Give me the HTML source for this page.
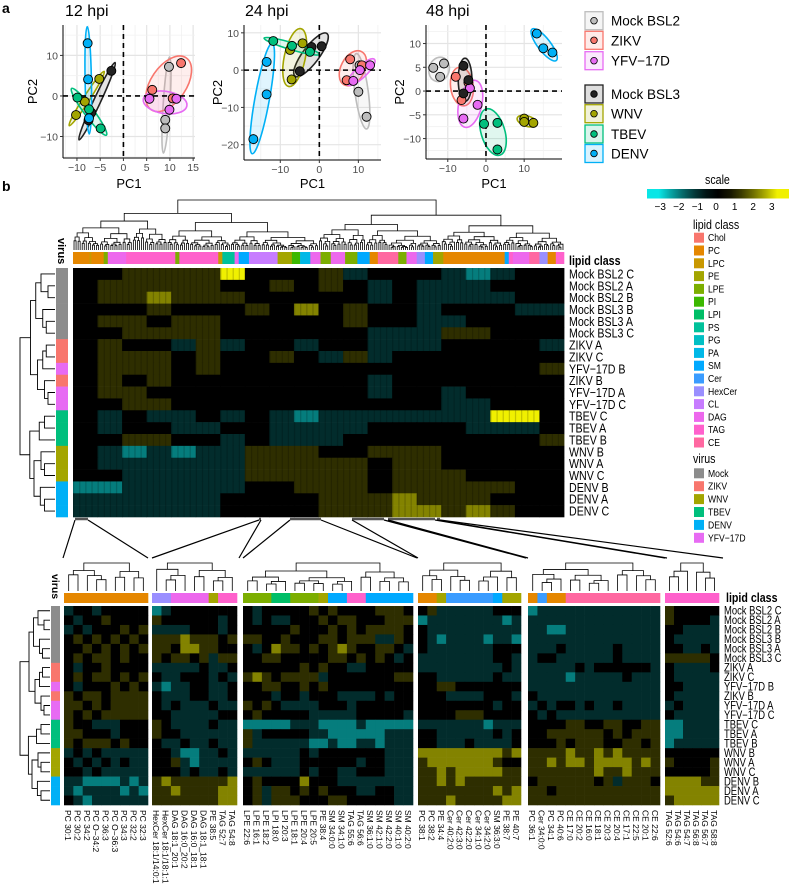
<!DOCTYPE html>
<html><head><meta charset="utf-8"><style>
body{margin:0;background:#fff}
svg{display:block;font-family:"Liberation Sans",sans-serif}
</style></head><body>
<svg id="fig" width="799" height="889" viewBox="0 0 799 889" xmlns="http://www.w3.org/2000/svg">
<text x="2" y="13" font-size="14" font-weight="bold">a</text>
<text x="2" y="191" font-size="14" font-weight="bold">b</text>
<g id="pca"></g>
<g id="legA"></g>
<g id="topHeat"></g>
<g id="botHeat"></g>
<g id="legB"></g>
</svg>
<script>
// ---------- DATA ----------
const groups = ["Mock BSL2","ZIKV","YFV-17D","Mock BSL3","WNV","TBEV","DENV"];
const groupColors = ["#bdbdbd","#f8766d","#e76bf3","#222222","#a3a500","#00bf7d","#00b0f6"];
const pc12 = [[[9.8,7.2],[9.0,-5.9],[9.0,-8.0]],[[12.4,8.1],[6.2,1.5],[10.6,-0.6]],[[5.6,-0.7],[11.4,-0.7],[9.9,-3.4]],[[-2.6,6.2],[-6.9,-4.1],[-7.5,-6.0]],[[-5.2,4.2],[-10.2,-4.7],[-8.3,-1.4]],[[-9.9,-0.4],[-7.4,-3.3],[-4.9,-8.0]],[[-7.7,13.0],[-7.6,4.1],[-7.4,-5.5]]];
const pc24 = [[[10.3,1.3],[10.0,-5.8],[12.1,-12.5]],[[7.9,2.9],[7.0,-2.7],[10.9,1.3]],[[13.0,1.3],[8.7,-2.9],[10.4,0.0]],[[-2.0,6.2],[0.6,6.4],[-5.0,-0.3]],[[-7.5,5.4],[-4.3,7.2],[-7.1,-2.5]],[[-11.8,7.8],[-7.0,6.5],[-2.4,4.9]],[[-13.5,2.2],[-13.5,-6.5],[-16.9,-18.5]]];
const pc48 = [[[-13.8,4.9],[-11.0,5.8],[-12.0,3.0]],[[-7.9,3.0],[-6.4,-1.9],[-4.6,1.8]],[[-5.9,-5.8],[-2.2,-2.9],[-4.2,0.6]],[[-5.9,5.3],[-4.6,2.3],[-5.9,-0.5]],[[10.0,-5.8],[12.4,-6.7],[10.0,-6.5]],[[-0.5,-6.9],[3.0,-6.7],[3.0,-12.3]],[[13.3,12.1],[15.0,9.0],[17.4,8.1]]];
const xTicks12=[-10,-5,0,5,10,15], yTicks12=[-10,0,10];
const xTicks24=[-10,0,10], yTicks24=[-20,-10,0,10];
const xTicks48=[-10,0,10], yTicks48=[-10,-5,0,5,10];

const rowLabels = ["Mock BSL2 C","Mock BSL2 A","Mock BSL2 B","Mock BSL3 B","Mock BSL3 A","Mock BSL3 C","ZIKV A","ZIKV C","YFV−17D B","ZIKV B","YFV−17D A","YFV−17D C","TBEV C","TBEV A","TBEV B","WNV B","WNV A","WNV C","DENV B","DENV A","DENV C"];
const rowVirus = ["Mock","Mock","Mock","Mock","Mock","Mock","ZIKV","ZIKV","YFV-17D","ZIKV","YFV-17D","YFV-17D","TBEV","TBEV","TBEV","WNV","WNV","WNV","DENV","DENV","DENV"];
const virusNames = ["Mock","ZIKV","WNV","TBEV","DENV","YFV-17D"];
const virusCols = ["#8c8c8c","#f8766d","#a3a500","#00bf7d","#00b0f6","#e76bf3"];
const lipidClasses = ["Chol","PC","LPC","PE","LPE","PI","LPI","PS","PG","PA","SM","Cer","HexCer","CL","DAG","TAG","CE"];
const lipidCols = ["#f8766d","#e58700","#c99800","#a3a500","#7cae00","#3cb800","#00be67","#00c19a","#00bfc4","#00b8e7","#00a9ff","#3a9cff","#9a8fff","#c77cff","#ed68ed","#ff61cc","#ff68a1"];
const mainBlocks = ["33444463334233321233","34444433434323222333","34454443333323222233","33343334353433233322","34434433333433223333","33444433333322244333","34332423323322233332","34443433432423333333","34443433333333333334","34343333333323333333","34433333333323323333","33443333333333322333","32322323212222222663","32332233222233332223","33443323222333333334","32121224443344433333","32222224444434433333","33222224444434443333","11222223344434444433","22222233334445444333","22222233334445545433"];
const mainLipidRuns = [["PC",8],["LPC",1],["PC",6],["LPE",2],["DAG",9],["TAG",24],["LPE",2],["TAG",19],["LPC",2],["PS",6],["DAG",2],["SM",5],["CL",14],["PE",7],["PI",4],["PA",5],["DAG",5],["LPE",5],["DAG",7],["LPE",6],["SM",6],["PC",4],["CE",10],["LPE",4],["DAG",5],["HexCer",4],["SM",4],["PE",5],["PC",30],["SM",2],["TAG",2],["DAG",8],["CE",5],["HexCer",4],["PC",4],["TAG",4]];
const p1Labels=["PC 30:1","PC 30:2","PC 34:2","PC O−34:2","PC 36:3","PC O−36:3","PC 34:3","PC 32:2","PC 32:3"];
const p2Labels=["HexCer 18:1/14:0:1","HexCer 18:1/18:1:1","DAG 18:1_20:1","DAG 16:0_20:2","DAG 16:0_18:1","DAG 18:1_18:1","PE 38:5","TAG 52:7","TAG 54:8"];
const p3Labels=["LPE 22:6","LPE 16:1","LPE 18:2","LPI 18:0","LPI 20:3","LPE 18:1","LPE 20:4","LPE 20:5","PE 38:4","SM 34:0:0","SM 34:1:0","TAG 55:6","TAG 56:6","SM 36:1:0","SM 42:1:0","SM 42:2:0","SM 40:1:0","SM 40:2:0"];
const p4Labels=["PC 38:1","PC 38:2","PE 34:4","Cer 40:2:0","Cer 42:3:0","Cer 42:2:0","Cer 34:1:0","Cer 34:2:0","SM 36:3:0","PE 38:7","PE 40:7"];
const p5Labels=["PC 36:1","Cer 34:0:0","PC 34:1","PC 40:6","CE 17:0","CE 20:2","CE 16:0","CE 18:1","CE 20:3","CE 20:4","CE 17:1","CE 22:5","CE 20:1","CE 22:6"];
const p6Labels=["TAG 52:6","TAG 54:6","TAG 54:7","TAG 56:8","TAG 56:7","TAG 58:8"];
const p1Lip=[["PC",9]], p2Lip=[["HexCer",2],["DAG",4],["PE",1],["TAG",2]], p3Lip=[["LPE",3],["LPI",2],["LPE",3],["PE",1],["SM",2],["TAG",2],["SM",5]], p4Lip=[["PC",2],["PE",1],["Cer",5],["SM",1],["PE",2]], p5Lip=[["PC",1],["Cer",1],["PC",2],["CE",10]], p6Lip=[["TAG",6]];
const p1Z=["233233333","323343333","232333434","343434343","334343434","343443433","323343333","343443434","323334343","434434444","443434444","434344444","433222333","443332333","434443433","232322222","323232322","332322222","221111212","212222121","321222222"];
const p2Z=["123333333","433333323","222233323","444544434","443554433","434434244","222223223","322333232","212233223","322233223","323222322","332222233","432222322","433222222","322322322","332112232","334212222","333232232","454444445","445444455","444444455"];
const p3Z=["323333343433334443","323223334344333444","333334333434344443","443343334434442243","323544343454334432","334433333443434323","333333434332233333","454344442333333344","334433434333333333","333233233322223233","434322223332333333","343333322222333332","111112221111211111","423333322111111222","422222211211221222","222222323333333222","343222333333233222","222222323322333222","343333533322222222","342443434333223322","342444333443333322"];
const p4Z=["34222222333","12222222212","32222222222","32122221221","32222222333","22222222332","22222222232","33222222322","33443333333","33322223332","33333333233","33334443333","22222221222","33222222323","33222322223","55555555545","45555555433","44545555544","44545444444","44444444545","44454444455"];
const p5Z=["12222222222222","22222222222222","22112222222222","22222222222222","22232222232222","23322222232222","22222323333332","22221222223222","22222222222222","32222222222222","23233232232222","32322222222222","33334433443344","33444444343444","33343444334434","44445445454444","44545545555454","44444445445444","34444443424443","44344444444444","44444444444444"];
const p6Z=["433333","433332","332222","322222","332232","444443","322223","322222","332222","322222","232222","322222","112222","112222","122222","333333","433334","333334","555544","555555","455555"];
const scaleTicks=[-3,-2,-1,0,1,2,3];

// ---------- helpers ----------
const NS="http://www.w3.org/2000/svg";
function mk(parent,tag,attrs,txt){const e=document.createElementNS(NS,tag);for(const k in attrs)e.setAttribute(k,attrs[k]);if(txt!==undefined)e.textContent=txt;parent.appendChild(e);return e;}
// narrow text: horizontally condensed
function ntext(parent,x,y,size,str,rot,extra){const a=Object.assign({x:0,y:0,'font-size':size,transform:`translate(${x} ${y}) rotate(${rot||0}) scale(0.82 1)`},extra||{});return mk(parent,'text',a,str);}
function zcol(v){v=Math.max(-3,Math.min(3,v));let t=Math.abs(v)/3;t=Math.pow(t,1.5);const c=v<0?[10,230,230]:[240,240,0];return `rgb(${Math.round(c[0]*t)},${Math.round(c[1]*t)},${Math.round(c[2]*t)})`;}
function lipCol(n){return lipidCols[lipidClasses.indexOf(n)]}
function vCol(n){return virusCols[virusNames.indexOf(n)]}

// ---------- PCA panels ----------
const pcaG=document.getElementById('pca');
const panels=[
 {t:"12 hpi",d:pc12,xt:xTicks12,yt:yTicks12,x0:63,x1:195,y0:25,y1:158,xd:[-13.0,15.4],yd:[-15.3,17.5],tx:65},
 {t:"24 hpi",d:pc24,xt:xTicks24,yt:yTicks24,x0:244,x1:381,y0:25,y1:160,xd:[-19.3,15.8],yd:[-24.1,12.1],tx:245},
 {t:"48 hpi",d:pc48,xt:xTicks48,yt:yTicks48,x0:426,x1:562,y0:25,y1:159,xd:[-15.7,19.9],yd:[-14.3,13.9],tx:426}];
panels.forEach((P,pi)=>{
 const g=mk(pcaG,'g',{});
 
 
 const sx=u=>P.x0+(u-P.xd[0])/(P.xd[1]-P.xd[0])*(P.x1-P.x0);
 const sy=v=>P.y1-(v-P.yd[0])/(P.yd[1]-P.yd[0])*(P.y1-P.y0);
 const t=mk(g,'text',{x:P.tx,y:16,'font-size':16},P.t);
 
 
 const xs=P.xt, ys=P.yt;
 const xstep=xs[1]-xs[0], ystep=ys[1]-ys[0];
 for(let i=-4;i<=40;i++){const u=xs[0]+(i*xstep)/2;const X=sx(u);const maj=i%2===0;if(X>P.x0&&X<P.x1)mk(g,'line',{x1:X,x2:X,y1:P.y0,y2:P.y1,stroke:maj?'#e4e4e4':'#f1f1f1','stroke-width':maj?1.2:0.8});}
 for(let i=-4;i<=40;i++){const v=ys[0]+(i*ystep)/2;const Y=sy(v);const maj=i%2===0;if(Y>P.y0&&Y<P.y1)mk(g,'line',{x1:P.x0,x2:P.x1,y1:Y,y2:Y,stroke:maj?'#e4e4e4':'#f1f1f1','stroke-width':maj?1.2:0.8});}
 mk(g,'line',{x1:P.x0,x2:P.x0,y1:P.y0,y2:P.y1,stroke:'#000','stroke-width':1});
 mk(g,'line',{x1:P.x0,x2:P.x1,y1:P.y1,y2:P.y1,stroke:'#000','stroke-width':1});
 P.xt.forEach(u=>{const X=sx(u);mk(g,'line',{x1:X,x2:X,y1:P.y1,y2:P.y1+3,stroke:'#333'});const l=mk(g,'text',{x:X,y:P.y1+13,'font-size':10.5,'text-anchor':'middle',fill:'#4d4d4d'},String(u).replace('-','−'));});
 P.yt.forEach(v=>{const Y=sy(v);mk(g,'line',{x1:P.x0-3,x2:P.x0,y1:Y,y2:Y,stroke:'#333'});const l=mk(g,'text',{x:P.x0-5,y:Y+4,'font-size':10.5,'text-anchor':'end',fill:'#4d4d4d'},String(v).replace('-','−'));});
 const xl=mk(g,'text',{x:(P.x0+P.x1)/2,y:188,'font-size':13,'text-anchor':'middle'},'PC1');
 
 const yx=P.x0-(pi==0?26:22), ymid=(P.y0+P.y1)/2;
 const yl=mk(g,'text',{x:yx,y:ymid,'font-size':13,'text-anchor':'middle',transform:`rotate(-90 ${yx} ${ymid})`},'PC2');
 
 P.d.forEach((pts,gi)=>{
  const n=pts.length;const mx=pts.reduce((a,p)=>a+p[0],0)/n,my=pts.reduce((a,p)=>a+p[1],0)/n;
  let a=0,b=0,c=0;pts.forEach(p=>{a+=(p[0]-mx)**2;b+=(p[0]-mx)*(p[1]-my);c+=(p[1]-my)**2});a/=n-1;b/=n-1;c/=n-1;
  const kx=(P.x1-P.x0)/(P.xd[1]-P.xd[0]), ky=(P.y1-P.y0)/(P.yd[1]-P.yd[0]);
  const A=a*kx*kx,B=-b*kx*ky,C=c*ky*ky;
  const tr=(A+C)/2,det=Math.sqrt(((A-C)/2)**2+B*B);
  const l1=tr+det,l2=Math.max(tr-det,0);
  let ang;
  if(Math.abs(B)<1e-9) ang=(A>=C?0:90); else ang=Math.atan2(l1-A,B)*180/Math.PI;
  const k=1.35;
  const cx=sx(mx),cy=sy(my);
  const e=mk(g,'ellipse',{cx:cx,cy:cy,rx:k*Math.sqrt(l1)+3,ry:k*Math.sqrt(l2)+3,transform:`rotate(${ang} ${cx} ${cy})`,fill:groupColors[gi],'fill-opacity':0.12,stroke:groupColors[gi],'stroke-width':1.6});
  
  
 });
 mk(g,'line',{x1:sx(0),x2:sx(0),y1:P.y0,y2:P.y1,stroke:'#000','stroke-width':1.6,'stroke-dasharray':'5,4'});
 mk(g,'line',{x1:P.x0,x2:P.x1,y1:sy(0),y2:sy(0),stroke:'#000','stroke-width':1.6,'stroke-dasharray':'5,4'});
 P.d.forEach((pts,gi)=>pts.forEach(p=>{
  const c=mk(g,'circle',{cx:sx(p[0]),cy:sy(p[1]),r:4.5,fill:groupColors[gi],stroke:'#000','stroke-width':0.9});
  
  
 }));
});
const legAG=document.getElementById('legA');
const legY=[20.7,40.3,60.7,94,113.7,134,153.5];
groups.forEach((gname,i)=>{
 const g=mk(legAG,'g',{});
 
 
 mk(g,'rect',{x:585,y:legY[i]-9,width:18,height:18,fill:groupColors[i],'fill-opacity':0.15,stroke:groupColors[i],'stroke-width':1.3});
 mk(g,'circle',{cx:594,cy:legY[i],r:3.3,fill:groupColors[i],stroke:'#000','stroke-width':0.8});
 mk(g,'text',{x:611,y:legY[i]+5,'font-size':13.5},gname.replace('-','−'));
});

// ---------- dendrogram helpers ----------
const fracs=[0.5,0.38,0.62,0.45,0.3,0.55,0.68,0.42,0.35,0.58];
let fi=0;
function colTree(lo,hi,h){ if(hi-lo<=1) return {leaf:lo,h:0}; let f=fracs[fi++%fracs.length]; let s=lo+Math.max(1,Math.min(hi-lo-1,Math.round((hi-lo)*f))); const r=0.62+0.25*fracs[(fi*3)%fracs.length]; return {l:colTree(lo,s,h*r),r:colTree(s,hi,h*(r*0.95)),h:h}; }
function drawColTree(g,node,xOf,yOf){ if(node.leaf!==undefined) return {x:xOf(node.leaf),y:yOf(0)}; const a=drawColTree(g,node.l,xOf,yOf),b=drawColTree(g,node.r,xOf,yOf); const y=yOf(node.h); mk(g,'path',{d:`M${a.x},${a.y}V${y}H${b.x}V${b.y}`,fill:'none',stroke:'#000','stroke-width':0.8}); return {x:(a.x+b.x)/2,y:y}; }
const rowTree=[1,[0.7,[0.55,[0.4,0,[0.2,1,2]],[0.35,3,[0.25,4,5]]],[0.5,[0.35,[0.25,6,7],8],[0.3,9,[0.2,10,11]]]],[0.72,[0.45,[0.3,12,13],14],[0.6,[0.4,15,[0.3,16,17]],[0.42,18,[0.3,19,20]]]]];
function drawRowTree(g,node,yOf,xOf){ if(typeof node==='number') return {x:xOf(0),y:yOf(node)}; const a=drawRowTree(g,node[1],yOf,xOf),b=drawRowTree(g,node[2],yOf,xOf); const x=xOf(node[0]); mk(g,'path',{d:`M${a.x},${a.y}H${x}V${b.y}H${b.x}`,fill:'none',stroke:'#000','stroke-width':0.9}); return {x:x,y:(a.y+b.y)/2}; }

// ---------- main heatmap ----------
const topG=document.getElementById('topHeat');
const HX0=73,HX1=564,HY0=268,HY1=517,NC=240;
const cw=(HX1-HX0)/NC, rh=(HY1-HY0)/rowLabels.length;
rowLabels.forEach((lab,r)=>{
 const str=mainBlocks[r]; const bw=(HX1-HX0)/str.length;
 for(let b=0;b<str.length;b++){
  const cell=mk(topG,'rect',{x:HX0+b*bw,y:HY0+r*rh,width:bw+0.4,height:rh+0.3,fill:zcol(+str[b]-3)});
  
  
 }
 const t=ntext(topG,569,HY0+(r+0.5)*rh+4.5,13,lab);
 
 
 const vb=mk(topG,'rect',{x:56,y:HY0+r*rh,width:12,height:rh+0.3,fill:vCol(rowVirus[r])});
 
 
});
for(let c=0;c<NC;c+=3){mk(topG,'rect',{x:HX0+c*cw,y:HY0,width:cw*0.6,height:HY1-HY0,fill:'#000','fill-opacity':0.18});}
let cc=0;
mainLipidRuns.forEach(([n,k])=>{const r=mk(topG,'rect',{x:HX0+cc*cw,y:252,width:k*cw+0.3,height:12,fill:lipCol(n)});cc+=k;});
ntext(topG,569,265,13,'lipid class',0,{'font-weight':'bold'});
mk(topG,'text',{x:58,y:238,'font-size':11,'font-weight':'bold',transform:'rotate(90 58 238)'},'virus');
fi=0;
const ct=colTree(0,NC,1);
drawColTree(topG,ct,i=>HX0+(i+0.5)*cw,h=>250-h*50);
drawRowTree(topG,rowTree,i=>HY0+(i+0.5)*rh,h=>55-h*35);
const conns=[[75,88,63,148],[259,261,152,239],[290,321,243,417],[352,384,418,526],[388,435,528,665],[437,440,667,723]];
conns.forEach(c=>{
 mk(topG,'line',{x1:c[0],x2:c[1],y1:519,y2:519,stroke:'#555','stroke-width':2.5});
 const l1=mk(topG,'line',{x1:c[0],y1:520,x2:c[2],y2:558,stroke:'#000','stroke-width':1.2});
 
 mk(topG,'line',{x1:c[1],y1:520,x2:c[3],y2:558,stroke:'#000','stroke-width':1.2});
});

// ---------- bottom panels ----------
const botG=document.getElementById('botHeat');
const BY0=606,BY1=805; const brh=(BY1-BY0)/rowLabels.length;
const subs=[[64,148,p1Labels,p1Lip,p1Z],[152,237,p2Labels,p2Lip,p2Z],[243,413,p3Labels,p3Lip,p3Z],[418,521,p4Labels,p4Lip,p4Z],[528,660,p5Labels,p5Lip,p5Z],[665,719,p6Labels,p6Lip,p6Z]];
subs.forEach((S,si)=>{
 const [x0,x1,labs,lip,Z]=S; const n=labs.length; const w=(x1-x0)/n;
 const g=mk(botG,'g',{});
 
 
 Z.forEach((row,r)=>{for(let c=0;c<n;c++){const cell=mk(g,'rect',{x:x0+c*w,y:BY0+r*brh,width:w+0.3,height:brh+0.3,fill:zcol(+row[c]-3)});}});
 let k=0; lip.forEach(([nm,cnt])=>{mk(g,'rect',{x:x0+k*w,y:593,width:cnt*w+0.3,height:10,fill:lipCol(nm)});k+=cnt;});
 labs.forEach((lb,c)=>{const X=x0+(c+0.5)*w-3.5;const t=mk(g,'text',{x:0,y:0,'font-size':10,transform:`translate(${X} 810) rotate(90) scale(0.85 0.82)`},lb);});
 fi=si*3;
 const tr=colTree(0,n,1);
 drawColTree(g,tr,i=>x0+(i+0.5)*w,h=>591-h*28);
});
rowLabels.forEach((lab,r)=>{
 const t=ntext(botG,724,BY0+(r+0.5)*brh+4,11.5,lab);
 
 
 mk(botG,'rect',{x:51,y:BY0+r*brh,width:9,height:brh+0.3,fill:vCol(rowVirus[r])});
});
ntext(botG,726,602,13,'lipid class',0,{'font-weight':'bold'});
mk(botG,'text',{x:52,y:574,'font-size':10.5,'font-weight':'bold',transform:'rotate(90 52 574)'},'virus');
drawRowTree(botG,rowTree,i=>BY0+(i+0.5)*brh,h=>50-h*30);

// ---------- heatmap legend ----------
const legBG=document.getElementById('legB');
const defs=mk(legBG,'defs',{});
const lg=mk(defs,'linearGradient',{id:'gz',x1:0,x2:1,y1:0,y2:0});
for(let i=0;i<=12;i++){mk(lg,'stop',{offset:i/12,'stop-color':zcol(-3.6+7.2*i/12)});}
const st=ntext(legBG,705,184,13,'scale');
const cb=mk(legBG,'rect',{x:647,y:189,width:142,height:9.5,fill:'url(#gz)'});

scaleTicks.forEach(v=>{const X=716+v*18.6;mk(legBG,'text',{x:X,y:210,'font-size':10,'text-anchor':'middle'},String(v).replace('-','−'));});
ntext(legBG,693,229,13,'lipid class');
lipidClasses.forEach((nm,i)=>{
 const cy=237.7+12.8*i;
 const g=mk(legBG,'g',{});
 
 
 mk(g,'rect',{x:694,y:cy-5,width:10,height:10,fill:lipCol(nm)});
 ntext(g,708,cy+3.5,10.5,nm);
});
ntext(legBG,693,463,13,'virus');
virusNames.forEach((nm,i)=>{
 const cy=473.3+12.9*i;
 const g=mk(legBG,'g',{});
 
 
 mk(g,'rect',{x:694,y:cy-5,width:10,height:10,fill:virusCols[i]});
 ntext(g,708,cy+3.5,10.5,nm.replace('-','−'));
});
</script>
</body></html>
